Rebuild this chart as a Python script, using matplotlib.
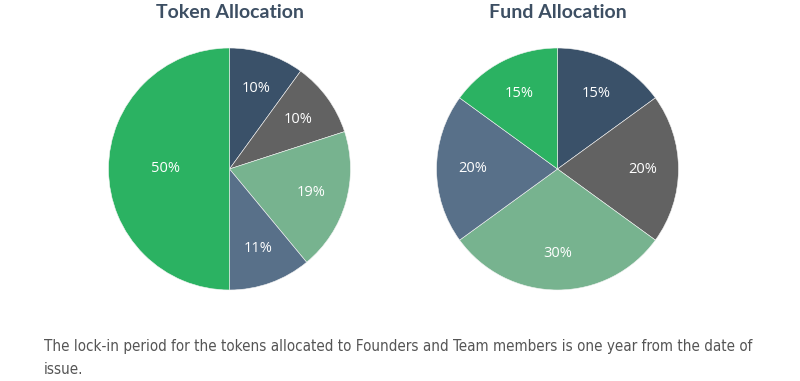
import matplotlib
matplotlib.use("Agg")
import matplotlib.pyplot as plt
from matplotlib import font_manager

titles = ["Token Allocation", "Fund Allocation"]
token_values = [10, 10, 19, 11, 50]
fund_values = [15, 20, 30, 20, 15]
slice_colors = ["#3a5169", "#626262", "#77b38f", "#587089", "#2bb262"]
caption_lines = ["The lock-in period for the tokens allocated to Founders and Team members is one year from the date of",
                 "issue."]

cond = [f for f in font_manager.fontManager.ttflist
        if f.name == "DejaVu Sans" and "ondensed" in str(f.stretch) and f.weight in (400, "normal")]
cap_kw = dict(family="DejaVu Sans", stretch="condensed") if cond else dict(family="Liberation Sans")

fig = plt.figure(figsize=(8, 3.81), dpi=100)
fig.patch.set_facecolor("white")

W, H = 800, 381
def axes_for(cx, cy, r):
    return fig.add_axes([(cx - r) / W, (H - cy - r) / H, 2 * r / W, 2 * r / H])

for (cx, cy), title, vals in zip([(229.5, 169), (557.5, 169)], titles, [token_values, fund_values]):
    ax = axes_for(cx, cy, 121)
    wedges, texts, autotexts = ax.pie(
        vals, colors=slice_colors, startangle=90, counterclock=False,
        autopct=lambda p: f"{p:.0f}%", pctdistance=0.70,
        wedgeprops=dict(linewidth=0.4, edgecolor="#f4f4f4"),
        textprops=dict(color="white", fontsize=10.5, family="Open Sans"))
    for v, t in zip(vals, autotexts):
        if v >= 50:
            x, y = t.get_position()
            t.set_position((x * 0.76, y * 0.76))
    ax.set_xlim(-1, 1)
    ax.set_ylim(-1, 1)
    ax.set_aspect("equal")
    ax.axis("off")
    fig.text(cx / W, 1 - 12 / H, title, ha="center", va="center",
             fontsize=14, fontweight="bold", color="#3d4f63", family="Lato")

# caption: fit first line to the reference width
renderer = fig.canvas.get_renderer()
t1 = fig.text(44 / W, 1 - 347 / H, caption_lines[0], ha="left", va="center", fontsize=12,
              color="#555555", **cap_kw)
w = t1.get_window_extent(renderer).width
fs = 12 * 707 / w
t1.set_fontsize(fs)
fig.text(44 / W, 1 - 370 / H, caption_lines[1], ha="left", va="center", fontsize=fs,
         color="#555555", **cap_kw)

fig.savefig("out.png", dpi=100, facecolor="white")
